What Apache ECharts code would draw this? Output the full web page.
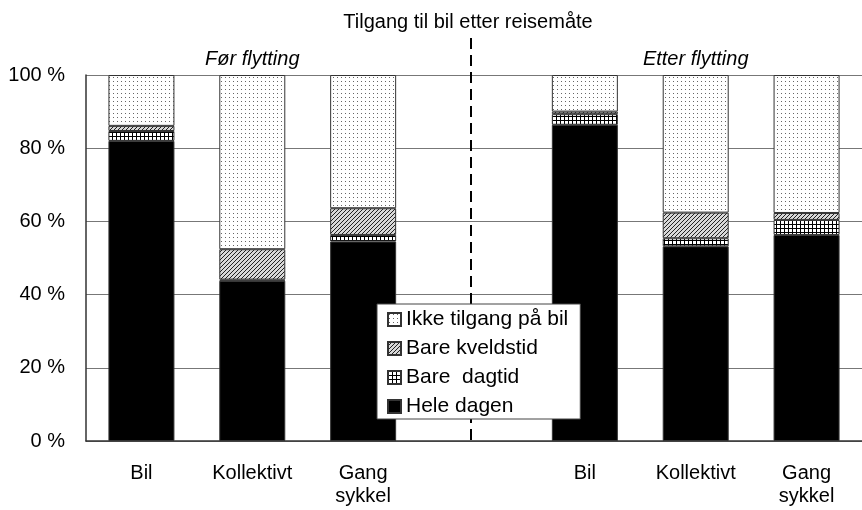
<!DOCTYPE html>
<html><head><meta charset="utf-8">
<script src="https://cdn.jsdelivr.net/npm/echarts@6/dist/echarts.min.js"></script>
<style>html,body{margin:0;padding:0;background:#fff}#c{width:862px;height:510px}</style>
</head><body><div id="c"></div>
<script>
var categories = ['Bil', 'Kollektivt', 'Gang\nsykkel', '', 'Bil', 'Kollektivt', 'Gang\nsykkel'];
var heleDagen   = [82.0, 43.8, 54.5, null, 86.4, 53.2, 56.3];
var bareDagtid  = [2.7, 0.3, 1.8, null, 2.9, 2.2, 4.1];
var bareKveld   = [1.4, 8.3, 7.3, null, 0.7, 7.0, 1.9];
var ikkeTilgang = [13.9, 47.6, 36.4, null, 10.0, 37.6, 37.7];
var yTicks = [0, 20, 40, 60, 80, 100];
var titleText = 'Tilgang til bil etter reisemåte';
var groupLabels = ['Før flytting', 'Etter flytting'];
var seriesNames = ['Hele dagen', 'Bare  dagtid', 'Bare kveldstid', 'Ikke tilgang på bil'];

function pat(w, h, draw) {
  var c = document.createElement('canvas'); c.width = w; c.height = h;
  var g = c.getContext('2d'); draw(g, w, h); return c;
}
var dotsPat = pat(4, 4, function (g) {
  g.fillStyle = '#fff'; g.fillRect(0, 0, 4, 4);
  g.fillStyle = '#666'; g.fillRect(1, 1, 1, 1);
});
var hatchPat = pat(4, 4, function (g) {
  g.fillStyle = '#d8d8d8'; g.fillRect(0, 0, 4, 4);
  g.fillStyle = '#222';
  for (var i = 0; i < 4; i++) { g.fillRect(3 - i, i, 1, 1); }
});
var gridPat = pat(4, 4, function (g) {
  g.fillStyle = '#fff'; g.fillRect(0, 0, 4, 4);
  g.fillStyle = '#000'; g.fillRect(0, 0, 4, 1); g.fillRect(0, 0, 1, 4);
});
var fills = ['#000', { image: gridPat, repeat: 'repeat' }, { image: hatchPat, repeat: 'repeat' }, { image: dotsPat, repeat: 'repeat' }];
var datas = [heleDagen, bareDagtid, bareKveld, ikkeTilgang];

var chart = echarts.init(document.getElementById('c'));
var FONT = 'Liberation Sans';
var series = datas.map(function (d, i) {
  return {
    name: seriesNames[i], type: 'bar', stack: 'a', data: d, barWidth: 66,
    itemStyle: { color: fills[i], borderColor: '#333', borderWidth: 1 },
    emphasis: { disabled: true }, animation: false
  };
});
chart.setOption({
  animation: false,
  textStyle: { fontFamily: FONT },
  grid: { left: 86, top: 75, width: 784, height: 366 },
  legend: {
    data: ['Ikke tilgang på bil', 'Bare kveldstid', 'Bare  dagtid', 'Hele dagen'],
    orient: 'vertical', left: 377, top: 304, itemWidth: 13, itemHeight: 13, itemGap: 8, z: 20,
    icon: 'rect', backgroundColor: '#fff', borderColor: '#444', borderWidth: 1, borderRadius: 0,
    padding: [5, 12, 2, 10], selectedMode: false,
    textStyle: { fontFamily: FONT, fontSize: 21, lineHeight: 21, color: '#000' }
  },
  xAxis: {
    type: 'category', data: categories,
    axisLine: { lineStyle: { color: '#333', width: 1.5 } },
    axisTick: { show: false },
    axisLabel: { color: '#000', fontSize: 20, fontFamily: FONT, margin: 21, lineHeight: 23, interval: 0 }
  },
  yAxis: {
    type: 'value', min: 0, max: 100, interval: 20,
    axisLine: { show: true, lineStyle: { color: '#333', width: 1.5 } },
    axisTick: { show: false },
    splitLine: { lineStyle: { color: '#777', width: 1 } },
    axisLabel: { color: '#000', fontSize: 20, fontFamily: FONT, margin: 21,
      formatter: function (v) { return yTicks.indexOf(v) >= 0 ? v + ' %' : ''; } }
  },
  series: series
});
var x1 = chart.convertToPixel({ xAxisIndex: 0 }, 1);
var x5 = chart.convertToPixel({ xAxisIndex: 0 }, 5);
var xm = chart.convertToPixel({ xAxisIndex: 0 }, 3) - 3;
var yb = chart.convertToPixel({ yAxisIndex: 0 }, 0);
chart.setOption({
  graphic: [
    { type: 'line', z: 1, shape: { x1: xm, y1: 38, x2: xm, y2: yb + 5 }, style: { stroke: '#000', lineWidth: 2, lineDash: [11, 6] } },
    { type: 'text', x: xm - 3, y: 22, style: { text: titleText, align: 'center', verticalAlign: 'middle', font: '20px "Liberation Sans"', fill: '#000' } },
    { type: 'text', x: x1, y: 59, style: { text: groupLabels[0], align: 'center', verticalAlign: 'middle', font: 'italic 20px "Liberation Sans"', fill: '#000' } },
    { type: 'text', x: x5, y: 59, style: { text: groupLabels[1], align: 'center', verticalAlign: 'middle', font: 'italic 20px "Liberation Sans"', fill: '#000' } }
  ]
});
</script></body></html>
